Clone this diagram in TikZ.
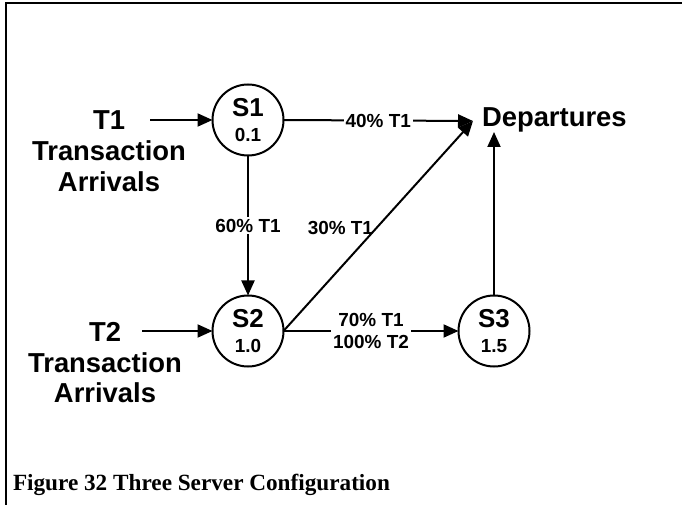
\documentclass[tikz,border=0pt]{standalone}
\usepackage{fontspec}
\setmainfont{Liberation Serif}
\setsansfont{Liberation Sans}
\usetikzlibrary{arrows.meta}

\begin{document}
\begin{tikzpicture}[x=1bp,y=-1bp,
  every node/.style={inner sep=0pt, outer sep=0pt},
  server/.style={circle, draw, line width=2bp, minimum size=71bp},
  flow/.style={line width=2bp, -{Triangle[length=15bp,width=13bp]}},
  big/.style={font=\sffamily\bfseries\fontsize{27.5}{31}\selectfont, align=center},
  sname/.style={font=\sffamily\bfseries\fontsize{26}{28}\selectfont},
  sval/.style={font=\sffamily\bfseries\fontsize{19}{21}\selectfont},
  pct/.style={font=\sffamily\bfseries\fontsize{19}{23}\selectfont, align=center, fill=white, inner sep=2bp},
  pctbare/.style={font=\sffamily\bfseries\fontsize{19}{23}\selectfont},
]
\useasboundingbox (0,0) rectangle (682,505);

% open frame: top and left edges
\draw[line width=2.4bp] (6,505) -- (6,3) -- (682,3);

% servers with their service times
\node[server] (s1) at (248,120) {};
\node[server] (s2) at (248,331) {};
\node[server] (s3) at (494,331) {};
\node[sname] (s1n) at ([yshift=12bp]s1.center) {S1};
\node[sval]  (s1v) at ([yshift=-15bp]s1.center) {0.1};
\node[sname] (s2n) at ([yshift=12bp]s2.center) {S2};
\node[sval]  (s2v) at ([yshift=-15bp]s2.center) {1.0};
\node[sname] (s3n) at ([yshift=12bp]s3.center) {S3};
\node[sval]  (s3v) at ([yshift=-15bp]s3.center) {1.5};

% arrival sources and departures
\node[big, anchor=north] (t1) at (109,111) {T1\\Transaction\\Arrivals};
\node[big, anchor=north] (t2) at (105,322) {T2\\Transaction\\Arrivals};
\node[big, anchor=base west] (dep) at (482,127) {Departures};

% free ends of connectors
\coordinate (a1) at (150,120);
\coordinate (a2) at (142,331);
\coordinate (dtip) at (473,121);
\coordinate (d3) at (494,132);

% flows
\draw[flow] (a1) -- (s1);
\draw[flow] (a2) -- (s2);
\draw[flow] (s1) -- node[pct] (l60) {60\% T1} (s2);
\draw[flow] (s1.east) -- node[pct] (l40) {40\% T1} (dtip);
\draw[flow] (s2.east) -- (dtip);
\node[pctbare, anchor=east] (l30) at (373,228) {30\% T1};
\draw[flow] (s2) -- node[pct] (l70) {70\% T1\\100\% T2} (s3);
\draw[flow] (s3) -- (d3);

% caption
\node[anchor=base west, font=\rmfamily\bfseries\fontsize{23.3}{28}\selectfont] (cap) at (13,490) {Figure 32 Three Server Configuration};
\end{tikzpicture}
\end{document}
